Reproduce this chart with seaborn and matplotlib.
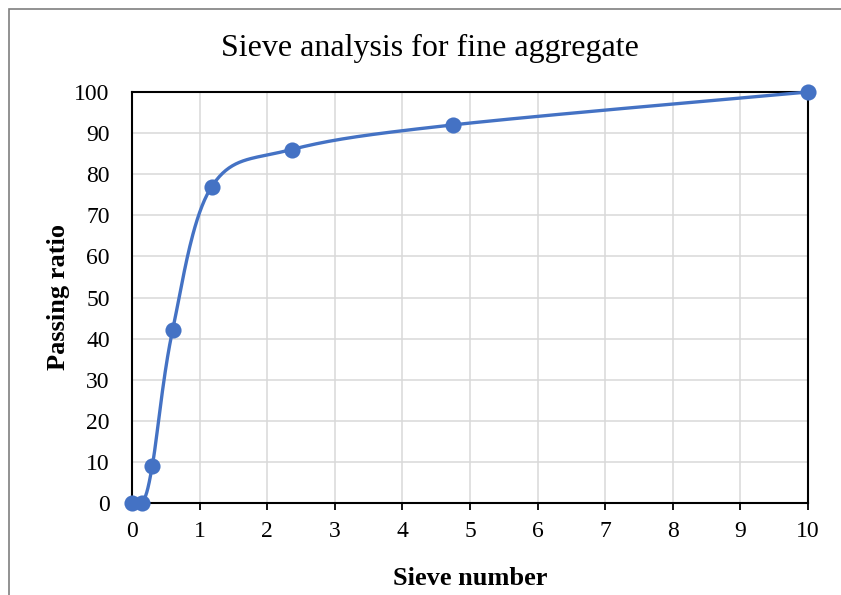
import numpy as np
import pandas as pd
import matplotlib
matplotlib.use("Agg")
import matplotlib.pyplot as plt
from matplotlib.patches import Rectangle
import seaborn as sns

# Sieve opening sizes and cumulative percent passing
sieve_size = [0.0, 0.15, 0.3, 0.6, 1.18, 2.36, 4.75, 10.0]
passing = [0, 0, 9, 42, 77, 86, 92, 100]

x_ticks = list(range(0, 11))
y_ticks = list(range(0, 101, 10))

sns.set_theme(style="white")
plt.rcParams["font.family"] = ["Liberation Serif", "DejaVu Serif"]
plt.rcParams["text.color"] = "black"
plt.rcParams["xtick.color"] = "black"
plt.rcParams["ytick.color"] = "black"
plt.rcParams["axes.labelcolor"] = "black"

BLUE = "#4472C4"

fig = plt.figure(figsize=(8.41, 5.95), dpi=100)
ax = fig.add_axes([132 / 841, 1 - 503 / 595, (808 - 132) / 841, (503 - 92) / 595])

# chart-area outline
fig.add_artist(Rectangle((9 / 841, -0.05), 1.2, 1 - 9 / 595 + 0.05,
                         transform=fig.transFigure, fill=False,
                         edgecolor="#7f7f7f", linewidth=1.2))

ax.set_xlim(0, 10)
ax.set_ylim(0, 100)
ax.set_xticks(x_ticks)
ax.set_yticks(y_ticks)
ax.grid(True, color="#d9d9d9", linewidth=1.1)
ax.set_axisbelow(True)
for s in ax.spines.values():
    s.set_color("black")
    s.set_linewidth(1.5)
ax.tick_params(axis="x", length=5, width=1.3, color="black", direction="out",
               bottom=True, labelsize=17, pad=8)
ax.tick_params(axis="y", length=0, labelsize=17, pad=16)

# smoothed connecting curve (cardinal Bezier, computed in screen space)
fig.canvas.draw()
pts = ax.transData.transform(np.column_stack([sieve_size, passing]))
n = len(pts)
curve = []
for i in range(n - 1):
    p0 = pts[max(i - 1, 0)]
    p1 = pts[i]
    p2 = pts[i + 1]
    p3 = pts[min(i + 2, n - 1)]
    c1 = p1 + (p2 - p0) / 6.0
    c2 = p2 - (p3 - p1) / 6.0
    t = np.linspace(0, 1, 40)[:, None]
    seg = ((1 - t) ** 3) * p1 + 3 * ((1 - t) ** 2) * t * c1 + 3 * (1 - t) * t ** 2 * c2 + t ** 3 * p2
    curve.append(seg if i == 0 else seg[1:])
curve = ax.transData.inverted().transform(np.vstack(curve))
curve_df = pd.DataFrame({"size": curve[:, 0], "pass": curve[:, 1]})

sns.lineplot(data=curve_df, x="size", y="pass", sort=False, estimator=None,
             color=BLUE, linewidth=2.4, ax=ax, clip_on=False, zorder=3)

pts_df = pd.DataFrame({"size": sieve_size, "pass": passing})
sns.scatterplot(data=pts_df, x="size", y="pass", color=BLUE, s=135,
                edgecolor=BLUE, linewidth=0, ax=ax, clip_on=False, zorder=4)

ax.set_xlabel("Sieve number", fontsize=19, fontweight="bold", labelpad=18)
ax.set_ylabel("Passing ratio", fontsize=19, fontweight="bold", labelpad=3.5)
fig.text(430 / 841, 1 - 48 / 595, "Sieve analysis for fine aggregate",
         fontsize=23, ha="center", va="center")

fig.savefig("out.png", dpi=100)
